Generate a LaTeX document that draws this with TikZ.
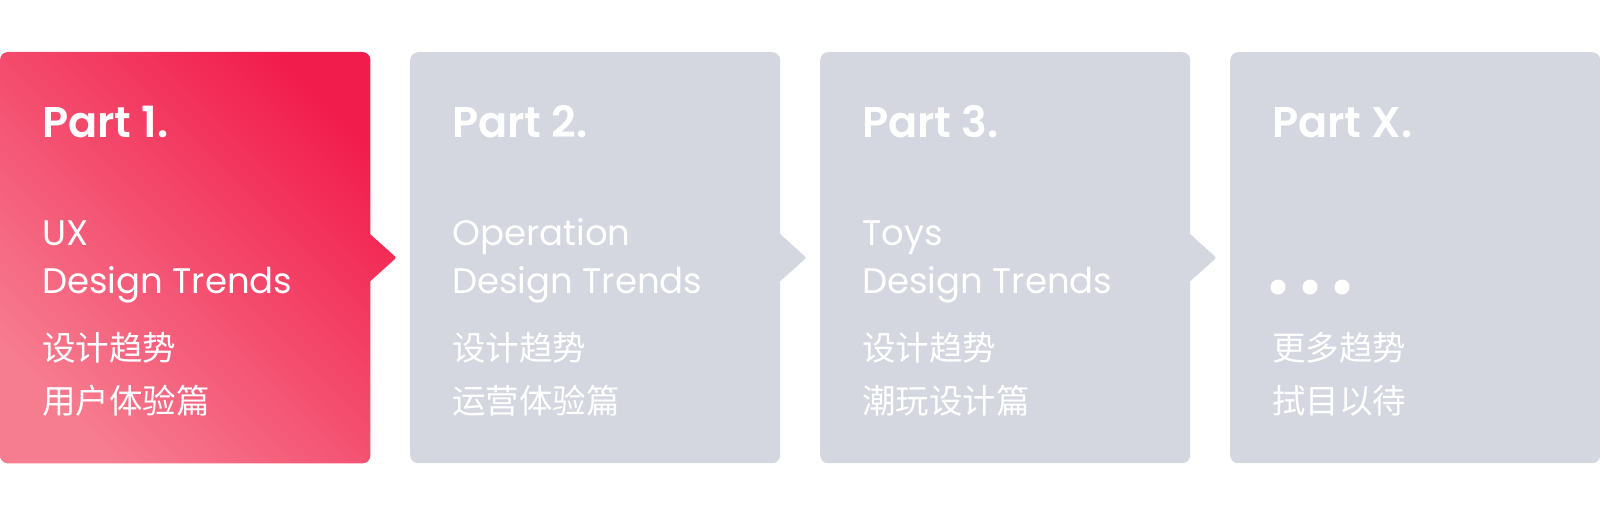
\documentclass[tikz,border=0pt]{standalone}
\usepackage{fontspec}
\setmainfont{Poppins}[BoldFont={Poppins SemiBold}]
\newfontfamily\cjk{Noto Sans CJK SC}
\definecolor{cardgray}{RGB}{212,215,224}
\definecolor{redtop}{RGB}{241,28,76}
\definecolor{redbot}{RGB}{246,124,143}
\begin{document}
\begin{tikzpicture}[x=1pt,y=-1pt,
  card/.style={minimum width=370pt,minimum height=411pt,inner sep=0pt,rounded corners=8pt,fill=cardgray,anchor=north west},
  redshade/.style={top color=redtop,bottom color=redbot,shading angle=-45},
  title/.style={anchor=base west,inner sep=0pt,text=white,font=\fontsize{43}{43}\selectfont\bfseries},
  sub/.style={anchor=base west,inner sep=0pt,text=white,font=\fontsize{35.5}{35.5}\selectfont},
  cn/.style={anchor=base west,inner sep=0pt,text=white,font=\fontsize{33.5}{33.5}\selectfont\cjk},
  dot/.style={circle,fill=white,minimum size=15pt,inner sep=0pt}]
\useasboundingbox (0,0) rectangle (1600,516);
% cards
\node[card,fill=none] (c1) at (0,52) {};
\node[card] (c2) at (410,52) {};
\node[card] (c3) at (820,52) {};
\node[card] (c4) at (1230,52) {};
% card 1 with notch, one shaded path
\shade[redshade,rounded corners=8pt] (c1.north west) rectangle (c1.south east)
  [sharp corners,rounded corners=2pt] ([xshift=-4pt,yshift=-27pt]c1.east) -- ([xshift=26pt]c1.east) -- ([xshift=-4pt,yshift=27pt]c1.east) -- cycle;
% notches
\fill[cardgray,rounded corners=2pt] ([xshift=-4pt,yshift=27pt]c2.east) -- ([xshift=26pt]c2.east) -- ([xshift=-4pt,yshift=-27pt]c2.east) -- cycle;
\fill[cardgray,rounded corners=2pt] ([xshift=-4pt,yshift=27pt]c3.east) -- ([xshift=26pt]c3.east) -- ([xshift=-4pt,yshift=-27pt]c3.east) -- cycle;
% card 1
\node[title] (t1) at (42,137) {Part 1.};
\node[sub] (s1a) at (42,245) {UX};
\node[sub] (s1b) at (42,293) {Design Trends};
\node[cn] (z1a) at (42,360) {设计趋势};
\node[cn] (z1b) at (42,413) {用户体验篇};
% card 2
\node[title] (t2) at (452,137) {Part 2.};
\node[sub] (s2a) at (452,245) {Operation};
\node[sub] (s2b) at (452,293) {Design Trends};
\node[cn] (z2a) at (452,360) {设计趋势};
\node[cn] (z2b) at (452,413) {运营体验篇};
% card 3
\node[title] (t3) at (862,137) {Part 3.};
\node[sub] (s3a) at (862,245) {Toys};
\node[sub] (s3b) at (862,293) {Design Trends};
\node[cn] (z3a) at (862,360) {设计趋势};
\node[cn] (z3b) at (862,413) {潮玩设计篇};
% card 4
\node[title] (t4) at (1272,137) {Part X.};
\node[dot] (d1) at (1278,287) {};
\node[dot] (d2) at (1310,287) {};
\node[dot] (d3) at (1342,287) {};
\node[cn] (z4a) at (1272,360) {更多趋势};
\node[cn] (z4b) at (1272,413) {拭目以待};
\end{tikzpicture}
\end{document}
